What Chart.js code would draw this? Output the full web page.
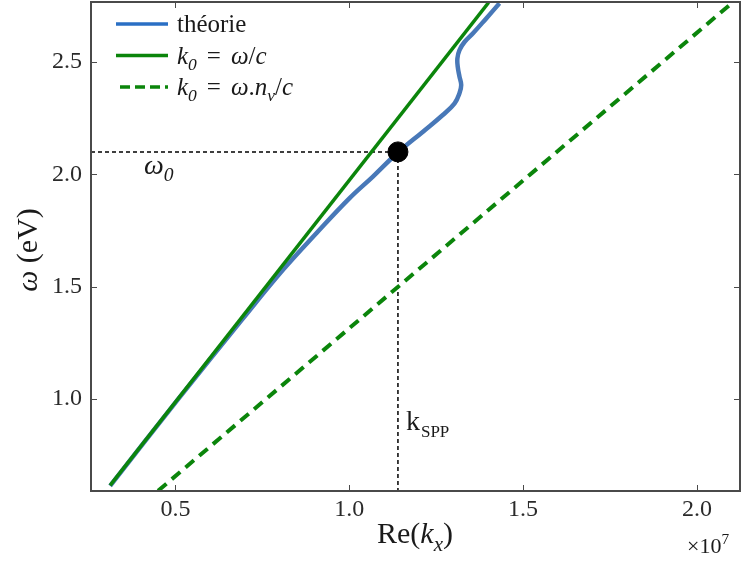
<!DOCTYPE html>
<html>
<head>
<meta charset="utf-8">
<script src="https://cdn.jsdelivr.net/npm/chart.js@4.4.0/dist/chart.umd.min.js"></script>
<style>
  html, body { margin: 0; padding: 0; background: #fff; }
  #wrap { width: 742px; height: 563px; }
</style>
</head>
<body>
<div id="wrap"><canvas id="c" width="742" height="563"></canvas></div>
<script>
// valeurs (k en unites de 1e7 m^-1, omega en eV)
const theorieK = [0.312, 0.510, 0.695, 0.810, 0.906, 1.001, 1.068, 1.139, 1.212, 1.269, 1.303,
                  1.317, 1.322, 1.317, 1.312, 1.311, 1.317, 1.332, 1.356, 1.394, 1.432];
const theorieW = [0.614, 1.004, 1.360, 1.576, 1.739, 1.894, 1.990, 2.096, 2.190, 2.264, 2.316,
                  2.361, 2.398, 2.435, 2.479, 2.516, 2.553, 2.590, 2.628, 2.694, 2.761];

// droite de lumiere k0 = w/c
const lumiereK = [0.312, 1.401];
const lumiereW = [0.616, 2.765];

// droite de lumiere dans le verre k0 = w.nv/c
const verreK = [0.450, 2.124];
const verreW = [0.592, 2.793];

// point SPP
const omega0 = 2.1;
const kSpp = 1.14;

// axes
const xTicks = [0.5, 1.0, 1.5, 2.0];
const yTicks = [1.0, 1.5, 2.0, 2.5];
const xMin = 0.257, xMax = 2.124;
const yMin = 0.591, yMax = 2.767;

const serif = "'Liberation Serif', 'DejaVu Serif', serif";
const bleu = '#4878b8';
const vert = '#0b850b';

function pts(xs, ys) {
  return xs.map((x, i) => ({ x: x, y: ys[i] }));
}

// pas de marge automatique autour des axes
function sansMarge(axis) {
  axis.paddingTop = 0;
  axis.paddingBottom = 0;
  axis.paddingLeft = 0;
  axis.paddingRight = 0;
}

// texte mixte (italique, indice, exposant) sur le canvas
function drawRich(ctx, x, y, parts, size, align) {
  const items = parts.map(p => {
    const s = (p.sub || p.sup) ? size * 0.7 : size;
    const font = (p.it ? 'italic ' : '') + s + 'px ' + serif;
    ctx.font = font;
    const w = ctx.measureText(p.t).width + (p.gap || 0) * size;
    return { p, font, w };
  });
  const total = items.reduce((a, it) => a + it.w, 0);
  let cx = align === 'center' ? x - total / 2 : x;
  ctx.textAlign = 'left';
  ctx.textBaseline = 'alphabetic';
  items.forEach(it => {
    ctx.font = it.font;
    let dy = 0;
    if (it.p.sub) dy = size * 0.25;
    if (it.p.sup) dy = -size * 0.4;
    ctx.fillText(it.p.t, cx + (it.p.gap || 0) * size / 2, y + dy);
    cx += it.w;
  });
}

const decor = {
  id: 'decor',
  afterDraw(chart) {
    const ctx = chart.ctx;
    const a = chart.chartArea;
    const xs = chart.scales.x, ys = chart.scales.y;
    ctx.save();

    // cadre + graduations vers l'interieur
    ctx.strokeStyle = '#4a4a4a';
    ctx.lineWidth = 2;
    ctx.strokeRect(a.left, a.top, a.right - a.left, a.bottom - a.top);
    ctx.lineWidth = 1;
    ctx.beginPath();
    xTicks.forEach(v => {
      const px = Math.round(xs.getPixelForValue(v)) + 0.5;
      ctx.moveTo(px, a.bottom); ctx.lineTo(px, a.bottom - 6);
      ctx.moveTo(px, a.top); ctx.lineTo(px, a.top + 6);
    });
    yTicks.forEach(v => {
      const py = Math.round(ys.getPixelForValue(v)) + 0.5;
      ctx.moveTo(a.left, py); ctx.lineTo(a.left + 6, py);
      ctx.moveTo(a.right, py); ctx.lineTo(a.right - 6, py);
    });
    ctx.stroke();

    ctx.fillStyle = '#1a1a1a';

    // legende
    const rows = [
      { color: '#2a6fc4', dash: [], parts: [{ t: 'théorie' }] },
      { color: vert, dash: [], parts: [{ t: 'k', it: true }, { t: '0', it: true, sub: true },
          { t: '=', gap: 0.8 }, { t: 'ω', it: true }, { t: '/' }, { t: 'c', it: true }] },
      { color: vert, dash: [10, 5], parts: [{ t: 'k', it: true }, { t: '0', it: true, sub: true },
          { t: '=', gap: 0.8 }, { t: 'ω', it: true }, { t: '.' }, { t: 'n', it: true },
          { t: 'v', it: true, sub: true }, { t: '/' }, { t: 'c', it: true }] }
    ];
    rows.forEach((r, i) => {
      const ly = 24 + i * 31.5;
      ctx.strokeStyle = r.color;
      ctx.lineWidth = 3.5;
      ctx.setLineDash(r.dash);
      ctx.beginPath();
      ctx.moveTo(i === 2 ? 120 : 116, ly);
      ctx.lineTo(168, ly);
      ctx.stroke();
      ctx.setLineDash([]);
      drawRich(ctx, 177, ly + 8, r.parts, 25, 'left');
    });

    // etiquettes omega0 et kSPP
    const px0 = xs.getPixelForValue(kSpp);
    const py0 = ys.getPixelForValue(omega0);
    drawRich(ctx, 144, py0 + 22, [{ t: 'ω', it: true }, { t: '0', it: true, sub: true }], 28, 'left');
    ctx.font = '28px ' + serif;
    ctx.fillText('k', px0 + 8, 430);
    ctx.font = '17px ' + serif;
    ctx.fillText('SPP', px0 + 23, 437);

    // titres des axes
    drawRich(ctx, 415, 543, [{ t: 'Re(' }, { t: 'k', it: true }, { t: 'x', it: true, sub: true }, { t: ')' }], 30, 'center');
    ctx.save();
    ctx.translate(37, 250);
    ctx.rotate(-Math.PI / 2);
    drawRich(ctx, 0, 0, [{ t: 'ω', it: true }, { t: ' (eV)' }], 30, 'center');
    ctx.restore();
    drawRich(ctx, 687, 553, [{ t: '×10' }, { t: '7', sup: true }], 22, 'left');

    ctx.restore();
  }
};

new Chart(document.getElementById('c'), {
  type: 'scatter',
  data: {
    datasets: [
      {
        label: 'SPP',
        data: [{ x: kSpp, y: omega0 }],
        backgroundColor: '#000',
        borderColor: '#000',
        pointRadius: 10,
        order: 0
      },
      {
        label: 'k0 = ω/c',
        data: pts(lumiereK, lumiereW),
        showLine: true,
        borderColor: vert,
        borderWidth: 3.5,
        pointRadius: 0,
        clip: 0,
        order: 1
      },
      {
        label: 'k0 = ω.nv/c',
        data: pts(verreK, verreW),
        showLine: true,
        borderColor: vert,
        borderWidth: 4,
        borderDash: [11, 7],
        pointRadius: 0,
        clip: 0,
        order: 2
      },
      {
        label: 'théorie',
        data: pts(theorieK, theorieW),
        showLine: true,
        borderColor: bleu,
        borderWidth: 4.5,
        tension: 0.4,
        pointRadius: 0,
        clip: 0,
        order: 3
      },
      {
        label: 'omega0',
        data: [{ x: xMin, y: omega0 }, { x: kSpp, y: omega0 }],
        showLine: true,
        borderColor: '#000',
        borderWidth: 1.5,
        borderDash: [4, 3],
        pointRadius: 0,
        order: 4
      },
      {
        label: 'kSPP',
        data: [{ x: kSpp, y: omega0 }, { x: kSpp, y: yMin }],
        showLine: true,
        borderColor: '#000',
        borderWidth: 1.5,
        borderDash: [4, 3],
        pointRadius: 0,
        order: 4
      }
    ]
  },
  options: {
    responsive: false,
    animation: false,
    devicePixelRatio: 1,
    layout: { autoPadding: false, padding: { top: 2, right: 2, left: 0, bottom: 0 } },
    plugins: {
      legend: { display: false },
      tooltip: { enabled: false }
    },
    scales: {
      x: {
        type: 'linear',
        min: xMin,
        max: xMax,
        grid: { display: false },
        border: { display: false },
        afterBuildTicks: axis => { axis.ticks = xTicks.map(v => ({ value: v })); },
        afterFit: axis => { axis.height = 72; sansMarge(axis); },
        ticks: {
          color: '#2a2a2a',
          padding: -4,
          font: { family: serif, size: 24 },
          callback: v => v.toFixed(1)
        }
      },
      y: {
        type: 'linear',
        min: yMin,
        max: yMax,
        grid: { display: false },
        border: { display: false },
        afterBuildTicks: axis => { axis.ticks = yTicks.map(v => ({ value: v })); },
        afterFit: axis => { axis.width = 91; sansMarge(axis); },
        ticks: {
          color: '#2a2a2a',
          padding: 1,
          font: { family: serif, size: 24 },
          callback: v => v.toFixed(1)
        }
      }
    }
  },
  plugins: [decor]
});
</script>
</body>
</html>
